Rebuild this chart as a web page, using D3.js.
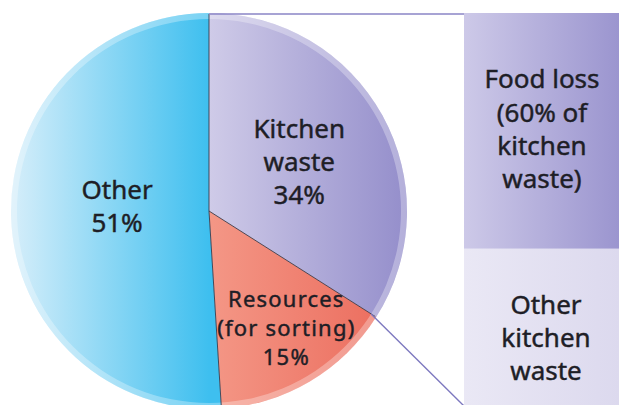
<!DOCTYPE html>
<html>
<head>
<meta charset="utf-8">
<script src="https://cdn.jsdelivr.net/npm/d3@7"></script>
<style>
  body { margin: 0; background: #fff; }
  text { font-family: "Noto Sans", sans-serif; fill: #1e1e26; stroke: #1e1e26; stroke-width: 0.45px; }
</style>
</head>
<body>
<div id="chart"></div>
<script>
// household waste composition (pie) and breakdown of kitchen waste (bar)
const categories = ["Kitchen waste", "Resources (for sorting)", "Other"];
const shares = [34, 15, 51];
const pieLabels = [["Kitchen", "waste", "34%"], ["Resources", "(for sorting)", "15%"], ["Other", "51%"]];

const breakdownCategories = ["Food loss", "Other kitchen waste"];
const breakdownShares = [60, 40];
const breakdownLabels = [["Food loss", "(60% of", "kitchen", "waste)"], ["Other", "kitchen", "waste"]];

const width = 619,
      height = 405,
      cx = 209, cy = 211, radius = 198; // pie layout

let svg = d3.select("#chart")
    .append("svg")
    .attr("width", width)
    .attr("height", height)
    .attr("viewBox", [0, 0, width, height]);

// gradients (horizontal, in the coordinates of the element that uses them)
const defs = svg.append("defs");
function grad(id, x1, x2, c1, c2) {
    const g = defs.append("linearGradient")
        .attr("id", id)
        .attr("gradientUnits", "userSpaceOnUse")
        .attr("x1", x1).attr("x2", x2).attr("y1", 0).attr("y2", 0);
    g.append("stop").attr("offset", "0%").attr("stop-color", c1);
    g.append("stop").attr("offset", "100%").attr("stop-color", c2);
}
grad("g-kitchen", 0, radius, "#cfcbe8", "#948ecb");
grad("g-res", 0, radius * 0.85, "#f49786", "#ec6f60");
grad("g-other", -radius, 0, "#d6eefa", "#3ebfef");
grad("g-food", 464, 619, "#cdc9e8", "#9b95cf");
grad("g-okw", 464, 619, "#eae8f5", "#dcd9ee");

const fills = ["url(#g-kitchen)", "url(#g-res)", "url(#g-other)"];
const breakdownFills = ["url(#g-food)", "url(#g-okw)"];

// pie
const pie = d3.pie().sort(null).value(d => d)(shares);
const arc = d3.arc().innerRadius(0).outerRadius(radius);

const pieG = svg.append("g").attr("transform", `translate(${cx},${cy})`);

pieG.selectAll(".slice")
    .data(pie)
    .join("path")
    .attr("class", "slice")
    .attr("d", arc)
    .attr("fill", (d, i) => fills[i]);

// light rim round the pie
pieG.append("path")
    .attr("d", d3.arc().innerRadius(radius - 6).outerRadius(radius).startAngle(0).endAngle(2 * Math.PI)())
    .attr("fill", "#fff")
    .attr("opacity", 0.3);

// thin dividers between slices
pieG.selectAll(".divider")
    .data(pie)
    .join("line")
    .attr("class", "divider")
    .attr("x1", 0).attr("y1", 0)
    .attr("x2", d => Math.sin(d.startAngle) * (radius - 1))
    .attr("y2", d => -Math.cos(d.startAngle) * (radius - 1))
    .attr("stroke", "#3a3a4a")
    .attr("stroke-width", 0.9);

// pie labels
const labelRadius = [103, 150, 92],
      labelShift = [[0, 0], [1, -12], [0, -8]],
      labelSize = [26, 22, 26],
      labelSpacing = [0, 1.2, 0],
      labelLine = [33, 29, 33];

pie.forEach((d, i) => {
    const a = (d.startAngle + d.endAngle) / 2;
    const lx = Math.sin(a) * labelRadius[i] + labelShift[i][0];
    const ly = -Math.cos(a) * labelRadius[i] + labelShift[i][1];
    const lines = pieLabels[i];
    const t = pieG.append("text")
        .attr("text-anchor", "middle")
        .style("font-size", labelSize[i] + "px")
        .style("letter-spacing", labelSpacing[i] + "px");
    lines.forEach((s, j) => {
        t.append("tspan")
            .attr("x", lx)
            .attr("y", ly + (j - (lines.length - 1) / 2) * labelLine[i] + labelSize[i] * 0.36)
            .text(s);
    });
});

// breakdown bar of kitchen waste
let y = d3.scaleLinear()
    .domain([0, 100])
    .range([13, 406]);

let x = d3.scaleBand()
    .domain(["Kitchen waste"])
    .range([464, 624]);

const stacked = [];
let acc = 0;
breakdownShares.forEach((v, i) => { stacked.push({ name: breakdownCategories[i], y0: acc, y1: acc + v }); acc += v; });

let bar = svg.selectAll(".seg")
    .data(stacked)
    .join("g")
    .attr("class", "seg");

bar.append("rect")
    .attr("x", x("Kitchen waste"))
    .attr("width", x.bandwidth())
    .attr("y", d => y(d.y0))
    .attr("height", d => y(d.y1) - y(d.y0))
    .attr("fill", (d, i) => breakdownFills[i]);

const barShift = [-2, 10];
bar.each(function (d, i) {
    const lines = breakdownLabels[i];
    const mid = (y(d.y0) + y(d.y1)) / 2 + barShift[i];
    const t = d3.select(this).append("text")
        .attr("text-anchor", "middle")
        .style("font-size", "26px");
    lines.forEach((s, j) => {
        t.append("tspan")
            .attr("x", 542 + (i === 1 ? 4 : 0))
            .attr("y", mid + (j - (lines.length - 1) / 2) * 33.3 + 9.4)
            .text(s);
    });
});

// connector lines from the kitchen waste slice to the bar
const kitchen = pie[0];
svg.append("line")
    .attr("x1", cx + Math.sin(kitchen.startAngle) * radius)
    .attr("y1", cy - Math.cos(kitchen.startAngle) * radius + 1)
    .attr("x2", x("Kitchen waste"))
    .attr("y2", y(0) + 1)
    .attr("stroke", "#8a85c6")
    .attr("stroke-width", 1.6);

svg.append("line")
    .attr("x1", cx + Math.sin(kitchen.endAngle) * (radius - 6))
    .attr("y1", cy - Math.cos(kitchen.endAngle) * (radius - 6))
    .attr("x2", x("Kitchen waste"))
    .attr("y2", y(100))
    .attr("stroke", "#7d78bf")
    .attr("stroke-width", 1.4);
</script>
</body>
</html>
